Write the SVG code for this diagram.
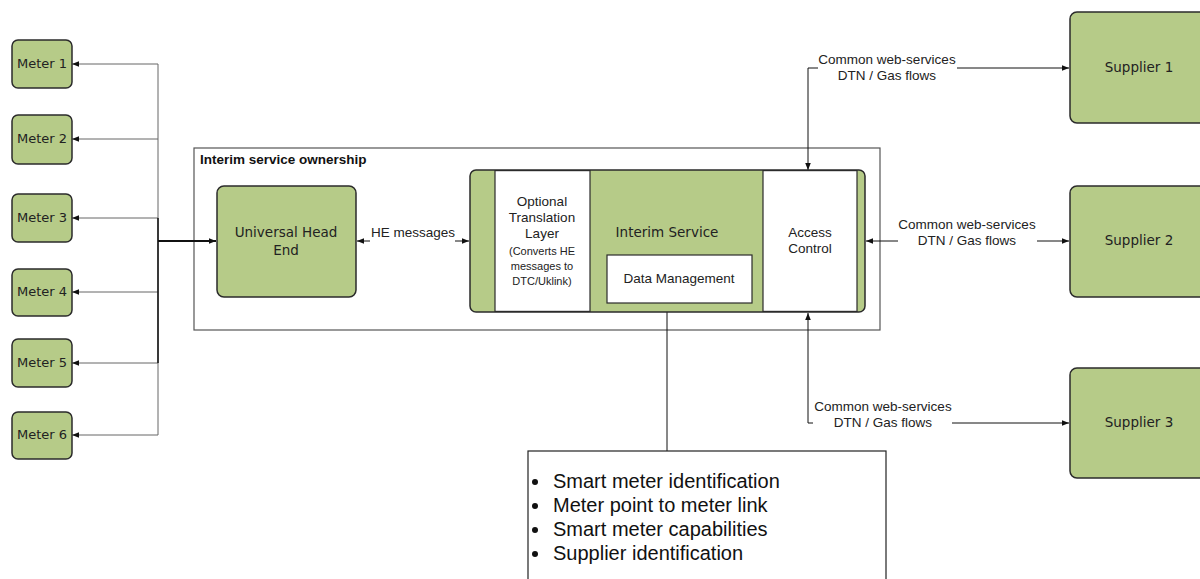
<svg xmlns="http://www.w3.org/2000/svg" width="1200" height="579" viewBox="0 0 1200 579">
  <style>
    .node { fill: #b6cb88; stroke: #2b2b2b; stroke-width: 1.5; }
    .panel { fill: #ffffff; stroke: #2b2b2b; stroke-width: 1.2; }
    .frame { fill: none; stroke: #555555; stroke-width: 1.2; }
    .vlabel { font-family: "DejaVu Sans", Verdana, sans-serif; font-size: 13.5px; fill: #222222; text-anchor: middle; }
    .mlabel { font-family: "DejaVu Sans", Verdana, sans-serif; font-size: 13px; fill: #222222; text-anchor: middle; }
    .alabel { font-family: "Liberation Sans", Arial, sans-serif; font-size: 13.5px; fill: #222222; text-anchor: middle; }
    .small { font-family: "Liberation Sans", Arial, sans-serif; font-size: 11px; fill: #222222; text-anchor: middle; }
    .list { font-family: "Liberation Sans", Arial, sans-serif; font-size: 20px; fill: #111111; }
    .conn { fill: none; stroke: #111111; stroke-width: 1; }
    .thin { fill: none; stroke: #666666; stroke-width: 1; }
  </style>
  <defs>
    <marker id="arrow" markerUnits="userSpaceOnUse" markerWidth="8" markerHeight="8" refX="7" refY="4" orient="auto">
      <path d="M0,1.2 L7,4 L0,6.8 Z" fill="#111111"/>
    </marker>
  </defs>

  <rect width="1200" height="579" fill="#ffffff"/>

  <!-- ownership frame -->
  <g id="ownership">
    <rect class="frame" x="194" y="148" width="686" height="182"/>
    <text x="200" y="164" font-family="Liberation Sans, Arial, sans-serif" font-size="13.5" font-weight="bold" fill="#111111">Interim service ownership</text>
  </g>

  <!-- connectors -->
  <g id="connectors">
    <!-- meter bus -->
    <line class="thin" x1="158" y1="64" x2="158" y2="435"/>
    <line class="thin" x1="158" y1="64" x2="72" y2="64" marker-end="url(#arrow)"/>
    <line class="thin" x1="158" y1="139" x2="72" y2="139" marker-end="url(#arrow)"/>
    <line class="thin" x1="158" y1="218" x2="72" y2="218" marker-end="url(#arrow)"/>
    <line class="thin" x1="158" y1="292" x2="72" y2="292" marker-end="url(#arrow)"/>
    <line class="thin" x1="158" y1="363" x2="72" y2="363" marker-end="url(#arrow)"/>
    <line class="thin" x1="158" y1="435" x2="72" y2="435" marker-end="url(#arrow)"/>
    <line x1="158" y1="218" x2="158" y2="363" stroke="#111111" stroke-width="1.5"/>
    <line x1="158" y1="241" x2="216" y2="241" stroke="#111111" stroke-width="2" marker-end="url(#arrow)"/>

    <!-- head end to interim service -->
    <line class="conn" x1="370" y1="241" x2="357" y2="241" marker-end="url(#arrow)"/>
    <line class="conn" x1="455" y1="241" x2="469" y2="241" marker-end="url(#arrow)"/>

    <!-- data management to list -->
    <line class="conn" x1="667" y1="312" x2="667" y2="451"/>

    <!-- supplier 1 -->
    <polyline class="conn" points="818,68 808,68 808,170" marker-end="url(#arrow)"/>
    <line class="conn" x1="957" y1="68" x2="1069" y2="68" marker-end="url(#arrow)"/>

    <!-- supplier 2 -->
    <line class="conn" x1="898" y1="241" x2="866" y2="241" marker-end="url(#arrow)"/>
    <line class="conn" x1="1037" y1="241" x2="1069" y2="241" marker-end="url(#arrow)"/>

    <!-- supplier 3 -->
    <polyline class="conn" points="813,423 808,423 808,313" marker-end="url(#arrow)"/>
    <line class="conn" x1="952" y1="423" x2="1069" y2="423" marker-end="url(#arrow)"/>
  </g>

  <!-- connector labels -->
  <g id="connector-labels">
    <text class="alabel" x="413" y="237">HE messages</text>
    <text class="alabel" x="887" y="64">Common web-services</text>
    <text class="alabel" x="887" y="80">DTN / Gas flows</text>
    <text class="alabel" x="967" y="229">Common web-services</text>
    <text class="alabel" x="967" y="245">DTN / Gas flows</text>
    <text class="alabel" x="883" y="411">Common web-services</text>
    <text class="alabel" x="883" y="427">DTN / Gas flows</text>
  </g>

  <!-- meters -->
  <g id="meter-1"><rect class="node" x="12" y="40" width="60" height="48" rx="6"/><text class="mlabel" x="42" y="68">Meter 1</text></g>
  <g id="meter-2"><rect class="node" x="12" y="115" width="60" height="49" rx="6"/><text class="mlabel" x="42" y="143">Meter 2</text></g>
  <g id="meter-3"><rect class="node" x="12" y="194" width="60" height="48" rx="6"/><text class="mlabel" x="42" y="222">Meter 3</text></g>
  <g id="meter-4"><rect class="node" x="12" y="269" width="60" height="47" rx="6"/><text class="mlabel" x="42" y="296">Meter 4</text></g>
  <g id="meter-5"><rect class="node" x="12" y="339" width="60" height="48" rx="6"/><text class="mlabel" x="42" y="367">Meter 5</text></g>
  <g id="meter-6"><rect class="node" x="12" y="412" width="60" height="47" rx="6"/><text class="mlabel" x="42" y="439">Meter 6</text></g>

  <!-- universal head end -->
  <g id="head-end">
    <rect class="node" x="217" y="186" width="139" height="111" rx="7"/>
    <text class="vlabel" x="286" y="237">Universal Head</text>
    <text class="vlabel" x="286" y="255">End</text>
  </g>

  <!-- interim service -->
  <g id="interim-service">
    <rect class="node" x="470" y="170" width="395" height="142" rx="6"/>
    <rect class="panel" x="495" y="170.6" width="95" height="140.8"/>
    <rect class="panel" x="763" y="170.6" width="94" height="140.8"/>
    <text class="alabel" x="542" y="206">Optional</text>
    <text class="alabel" x="542" y="222">Translation</text>
    <text class="alabel" x="542" y="238">Layer</text>
    <text class="small" x="542" y="255">(Converts HE</text>
    <text class="small" x="542" y="270">messages to</text>
    <text class="small" x="542" y="285">DTC/Uklink)</text>
    <text class="vlabel" x="667" y="237" font-size="14">Interim Service</text>
    <text class="alabel" x="810" y="237">Access</text>
    <text class="alabel" x="810" y="253">Control</text>
  </g>

  <g id="data-management">
    <rect class="panel" x="607" y="255" width="145" height="48"/>
    <text class="alabel" x="679" y="283">Data Management</text>
  </g>

  <!-- suppliers -->
  <g id="supplier-1"><rect class="node" x="1070" y="12" width="140" height="111" rx="7"/><text class="vlabel" x="1139" y="72">Supplier 1</text></g>
  <g id="supplier-2"><rect class="node" x="1070" y="186" width="140" height="111" rx="7"/><text class="vlabel" x="1139" y="245">Supplier 2</text></g>
  <g id="supplier-3"><rect class="node" x="1070" y="368" width="140" height="110" rx="7"/><text class="vlabel" x="1139" y="427">Supplier 3</text></g>

  <!-- data held -->
  <g id="data-list">
    <rect x="528" y="451" width="358" height="140" fill="#ffffff" stroke="#222222" stroke-width="1.2"/>
    <circle cx="535" cy="482" r="3" fill="#111111"/>
    <circle cx="535" cy="506" r="3" fill="#111111"/>
    <circle cx="535" cy="530" r="3" fill="#111111"/>
    <circle cx="535" cy="554" r="3" fill="#111111"/>
    <text class="list" x="553" y="488">Smart meter identification</text>
    <text class="list" x="553" y="512">Meter point to meter link</text>
    <text class="list" x="553" y="536">Smart meter capabilities</text>
    <text class="list" x="553" y="560">Supplier identification</text>
  </g>
</svg>
